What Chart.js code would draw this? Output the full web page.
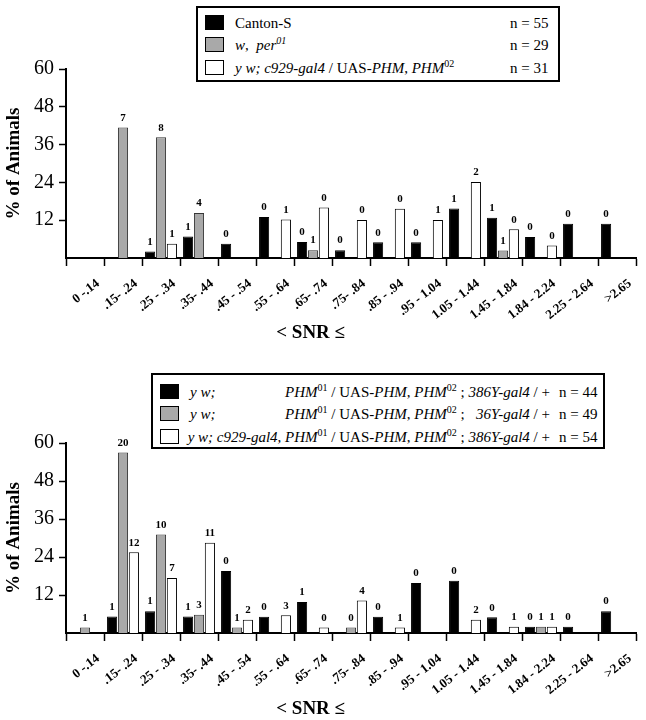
<!DOCTYPE html>
<html>
<head>
<meta charset="utf-8">
<script src="https://cdn.jsdelivr.net/npm/chart.js@4.4.1/dist/chart.umd.min.js"></script>
<style>
body { margin: 0; width: 646px; height: 720px; background: #fff; position: relative; overflow: hidden; font-family: 'Liberation Serif', 'Times New Roman', Times, serif; color: #000; }
.panel { position: absolute; left: 0; width: 646px; height: 360px; }
.legend { position: absolute; border: 2px solid #000; background: #fff; font-size: 15px; }
.row { position: absolute; left: 0; right: 0; height: 20px; line-height: 20px; white-space: nowrap; }
.row span { position: absolute; top: 0; }
.sw { position: absolute; top: 2px; left: 7px; width: 19px; height: 15px; box-sizing: border-box; border: 1px solid #000; }
sup { font-size: 10px; vertical-align: 6px; line-height: 0; }
</style>
</head>
<body>
<div class="panel" style="top:0"><canvas id="topChart"></canvas></div>
<div class="panel" style="top:360px"><canvas id="botChart"></canvas></div>

<div class="legend" style="left:196px; top:6px; width:360px; height:72px;">
  <div class="row" style="top:5px"><div class="sw" style="background:#000"></div><span style="left:37px">Canton-S</span><span style="left:312px">n = 55</span></div>
  <div class="row" style="top:27px"><div class="sw" style="background:#a9a9a9"></div><span style="left:37px"><i>w</i>,&nbsp;&nbsp;<i>per<sup>01</sup></i></span><span style="left:312px">n = 29</span></div>
  <div class="row" style="top:50px"><div class="sw" style="background:#fff"></div><span style="left:37px"><i>y w; c929-gal4</i> / UAS-<i>PHM</i>, <i>PHM</i><sup>02</sup></span><span style="left:312px">n = 31</span></div>
</div>

<div class="legend" style="left:151px; top:373px; width:450px; height:72px;">
  <div class="row" style="top:7px"><div class="sw" style="background:#000"></div><span style="left:37px"><i>y w;</i></span><span style="right:53px"><i>PHM</i><sup>01</sup> / UAS-<i>PHM</i>, <i>PHM</i><sup>02</sup> ; <i>386Y-gal4</i> / +</span><span style="left:406px">n = 44</span></div>
  <div class="row" style="top:29px"><div class="sw" style="background:#a9a9a9"></div><span style="left:37px"><i>y w;</i></span><span style="right:53px"><i>PHM</i><sup>01</sup> / UAS-<i>PHM</i>, <i>PHM</i><sup>02</sup> ;&nbsp;&nbsp; <i>36Y-gal4</i> / +</span><span style="left:406px">n = 49</span></div>
  <div class="row" style="top:52px"><div class="sw" style="background:#fff"></div><span style="right:53px"><i>y w; c929-gal4, PHM</i><sup>01</sup> / UAS-<i>PHM</i>, <i>PHM</i><sup>02</sup> ; <i>386Y-gal4</i> / +</span><span style="left:406px">n = 54</span></div>
</div>

<script>
// SNR bins
const categories = ['0 -.14', '.15- .24', '.25 - .34', '.35- .44', '.45 - .54', '.55 - .64', '.65- .74', '.75- .84',
    '.85 - .94', '.95 - 1.04', '1.05 - 1.44', '1.45 - 1.84', '1.84 - 2.24', '2.25 - 2.64', '>2.65'];
const yTicks = [12, 24, 36, 48, 60];

/* top panel: % of animals */
const topBlack = [null, null, 2.1, 6.8, 4.5, 13.0, 5.1, 2.5, 5.0, 5.0, 15.7, 12.8, 6.7, 10.9, 10.9];
const topGray  = [null, 41.4, 38.3, 14.3, null, null, 2.5, null, null, null, null, 2.4, null, null, null];
const topWhite = [null, null, 4.5, null, null, 12.2, 16.0, 12.1, 15.6, 12.1, 24.1, 9.1, 4.0, null, null];
// numbers printed above the bars
const topBlackN = [null, null, 1, 1, 0, 0, 0, 0, 0, 0, 1, 1, 0, 0, 0];
const topGrayN  = [null, 7, 8, 4, null, null, 1, null, null, null, null, 1, null, null, null];
const topWhiteN = [null, null, 1, null, null, 1, 0, 0, 0, 1, 2, 0, 0, null, null];

/* bottom panel */
const botBlack = [null, 5.2, 6.9, 5.2, 19.6, 5.1, 9.8, null, 5.1, 15.8, 16.5, 5.0, 2.0, 2.0, 6.9];
const botGray  = [1.7, 57.0, 31.1, 5.8, 1.7, null, null, 1.7, null, null, null, null, 2.0, null, null];
const botWhite = [null, 25.5, 17.4, 28.5, 4.2, 5.6, 1.7, 10.3, 1.7, null, 4.2, 2.0, 2.0, null, null];
const botBlackN = [null, 1, 1, 1, 0, 0, 1, null, 0, 0, 0, 0, 0, 0, 0];
const botGrayN  = [1, 20, 10, 3, 1, null, null, 0, null, null, null, null, 1, null, null];
const botWhiteN = [null, 12, 7, 11, 2, 3, 0, 4, 1, null, 2, 1, 1, null, null];

const serif = "'Liberation Serif', 'Times New Roman', Times, serif";

// draws the small counts above each bar
const countLabels = {
    id: 'countLabels',
    afterDatasetsDraw(chart) {
        const ctx = chart.ctx;
        ctx.save();
        ctx.font = 'bold 11px ' + serif;
        ctx.fillStyle = '#000';
        ctx.textAlign = 'center';
        ctx.textBaseline = 'bottom';
        chart.data.datasets.forEach((ds, i) => {
            chart.getDatasetMeta(i).data.forEach((bar, j) => {
                if (ds.data[j] === null || ds.counts[j] === null) return;
                ctx.fillText(String(ds.counts[j]), bar.x, bar.y - 4);
            });
        });
        ctx.restore();
    }
};

function makeChart(id, black, gray, white, blackN, grayN, whiteN, padTop, xHeight, titlePad) {
    return new Chart(document.getElementById(id), {
        type: 'bar',
        data: {
            labels: categories,
            datasets: [
                { data: black, counts: blackN, backgroundColor: '#000', borderColor: '#000', borderWidth: 1 },
                { data: gray, counts: grayN, backgroundColor: '#a9a9a9', borderColor: '#333', borderWidth: 1 },
                { data: white, counts: whiteN, backgroundColor: '#fff', borderColor: '#000', borderWidth: 1 }
            ]
        },
        options: {
            responsive: true,
            maintainAspectRatio: false,
            animation: false,
            categoryPercentage: 0.86,
            barPercentage: 0.93,
            layout: { padding: { top: padTop, right: 10, left: 0, bottom: 0 } },
            plugins: { legend: { display: false }, tooltip: { enabled: false } },
            scales: {
                x: {
                    border: { color: '#000', width: 2 },
                    grid: { drawOnChartArea: false, offset: true, tickLength: 8, tickWidth: 1.5, color: '#000' },
                    ticks: { autoSkip: false, minRotation: 38, maxRotation: 38, labelOffset: 13, padding: 10,
                        color: '#000', font: { family: serif, size: 13, weight: 'bold' } },
                    title: { display: true, text: '< SNR \u2264' + '\u00a0'.repeat(17), color: '#000',
                        font: { family: serif, size: 19, weight: 'bold' }, padding: { top: 0, bottom: titlePad } },
                    afterFit: s => { s.height = xHeight; }
                },
                y: {
                    min: 0, max: 60,
                    border: { color: '#000', width: 2 },
                    grid: { drawOnChartArea: false, tickLength: 7, tickWidth: 1.5, color: '#000' },
                    ticks: { padding: 5, color: '#000', font: { family: serif, size: 20 } },
                    afterBuildTicks: s => { s.ticks = yTicks.map(v => ({ value: v })); },
                    title: { display: true, text: '% of Animals', color: '#000',
                        font: { family: serif, size: 19, weight: 'bold' }, padding: { top: 3, bottom: 0 } },
                    afterFit: s => { s.width = 66; }
                }
            }
        },
        plugins: [countLabels]
    });
}

makeChart('topChart', topBlack, topGray, topWhite, topBlackN, topGrayN, topWhiteN, 69, 102, 16);
makeChart('botChart', botBlack, botGray, botWhite, botBlackN, botGrayN, botWhiteN, 83, 87, 0);
</script>
</body>
</html>
